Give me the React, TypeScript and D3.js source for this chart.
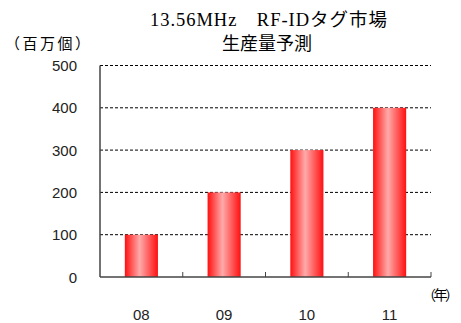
import React from "react";
import * as d3 from "d3";

const categories = ["08", "09", "10", "11"];
const values = [100, 200, 300, 400];
const yTicks = [0, 100, 200, 300, 400, 500];
const titleLines = ["13.56MHz\u3000RF-IDタグ市場", "生産量予測"];
const yUnit = "（百万個）";
const xUnit = "（年）";

export default function App() {
  const W = 461, H = 323;
  const left = 100, right = 431, top = 65.5, bottom = 277;
  const x = d3.scaleBand<string>().domain(categories).range([left, right]).paddingInner(0.6).paddingOuter(0.3);
  const band = d3.scaleBand<string>().domain(categories).range([left, right]);
  const y = d3.scaleLinear().domain([0, 500]).range([bottom, top]);
  const sans = "'Noto Sans CJK JP', Arial, sans-serif";
  const num = "'Liberation Sans', Arial, sans-serif";
  const serif = "'Liberation Serif', 'DejaVu Serif', 'Noto Sans CJK JP', serif";
  const boundaries = categories.slice(1).map((c) => band(c)!).concat([right]);
  return (
    <svg width={W} height={H} style={{ position: "absolute", left: 0, top: 0, background: "#fff" }}>
      <defs>
        <linearGradient id="barGrad" x1="0" x2="1" y1="0" y2="0">
          <stop offset="0" stopColor="#ff1010" />
          <stop offset="0.45" stopColor="#ffaaaa" />
          <stop offset="1" stopColor="#ff1010" />
        </linearGradient>
      </defs>
      <text x={268.5} y={26} textAnchor="middle" fontFamily={serif} fontSize={18.5} fill="#000" textLength={237} lengthAdjust="spacing">
        {titleLines[0]}
      </text>
      <text x={267} y={50} textAnchor="middle" fontFamily={serif} fontSize={18} fill="#000">
        {titleLines[1]}
      </text>
      <text x={5} y={49} fontFamily={sans} fontSize={15} fill="#000" textLength={85} lengthAdjust="spacing">{yUnit}</text>
      {yTicks.filter((v) => v > 0).map((v) => (
        <line key={v} x1={left} x2={right} y1={y(v)} y2={y(v)} stroke="#000" strokeWidth={1} strokeDasharray="3,2" />
      ))}
      {categories.map((c, i) => (
        <rect key={c} x={x(c)!} width={x.bandwidth()} y={y(values[i])} height={bottom - y(values[i])} fill="url(#barGrad)" />
      ))}
      <line x1={left} x2={left} y1={top} y2={bottom} stroke="#444" strokeWidth={1.5} />
      <line x1={left} x2={right} y1={bottom} y2={bottom} stroke="#444" strokeWidth={1.5} />
      {boundaries.map((b, i) => (
        <line key={i} x1={b} x2={b} y1={bottom - 5} y2={bottom} stroke="#444" strokeWidth={1} />
      ))}
      {yTicks.map((v) => (
        <text key={v} x={77} y={y(v) + 5.5} textAnchor="end" fontFamily={num} fontSize={15} fill="#222">
          {v}
        </text>
      ))}
      {categories.map((c) => (
        <text key={c} x={band(c)! + band.bandwidth() / 2} y={320} textAnchor="middle" fontFamily={num} fontSize={15} fill="#222">
          {c}
        </text>
      ))}
      <text x={422} y={300} fontFamily={sans} fontSize={14} fill="#000" textLength={37} lengthAdjust="spacing">{xUnit}</text>
    </svg>
  );
}
